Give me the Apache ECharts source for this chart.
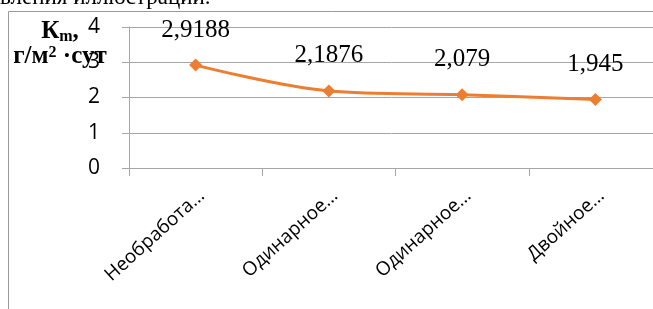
<!DOCTYPE html>
<html>
<head>
<meta charset="utf-8">
<script src="https://cdn.jsdelivr.net/npm/echarts@6/dist/echarts.min.js"></script>
<style>
  html, body { margin: 0; padding: 0; background: #fff; }
  #chart { width: 653px; height: 309px; }
</style>
</head>
<body>
<div id="chart"></div>
<script>
// categories as shown (truncated in the original)
const categories = ['Необработа…', 'Одинарное…', 'Одинарное…', 'Двойное…']
const kmValues = [2.9188, 2.1876, 2.079, 1.945]
const kmLabels = ['2,9188', '2,1876', '2,079', '1,945']
const yTicks = [0, 1, 2, 3, 4]

const gray = '#a6a6a6'
const orange = '#ed7d31'

let myChart = echarts.init(document.getElementById('chart'), null, {renderer: 'canvas'})

let option = {
  animation: false,
  grid: {
    left: 129,
    top: 27,
    width: 533,
    height: 141,
    outerBoundsMode: 'none'
  },
  graphic: [
    {
      type: 'rect',
      shape: {x: 8.5, y: 11.5, width: 700, height: 400},
      style: {fill: 'none', stroke: '#9a9a9a', lineWidth: 1},
      z: -1
    },
    {
      type: 'text',
      left: 0,
      top: -14,
      style: {
        text: 'вления иллюстрации.',
        font: '23px "Liberation Serif"',
        fill: '#000'
      }
    },
    {
      type: 'text',
      x: 60,
      y: 19,
      style: {
        text: '{a|К}{s|m}{a|,}\n{a|г/м}{p|2}{a| ·сут}',
        rich: {
          a: {font: 'bold 25px "Liberation Serif"', fill: '#000', lineHeight: 24},
          s: {font: 'bold 16px "Liberation Serif"', fill: '#000', verticalAlign: 'bottom', padding: [10, 0, 0, 0]},
          p: {font: 'bold 16px "Liberation Serif"', fill: '#000', verticalAlign: 'top', padding: [0, 0, 8, 0]}
        },
        align: 'center'
      },
      z: 10
    }
  ],
  xAxis: {
    type: 'category',
    data: categories,
    boundaryGap: true,
    axisLine: {show: true, lineStyle: {color: gray, width: 1}},
    axisTick: {show: true, length: 8, lineStyle: {color: gray}},
    axisLabel: {
      rotate: 42,
      interval: 0,
      margin: 18,
      verticalAlign: 'top',
      color: '#000',
      fontSize: 19,
      fontFamily: '"Open Sans", sans-serif'
    }
  },
  yAxis: {
    type: 'value',
    min: yTicks[0],
    max: yTicks[yTicks.length - 1],
    interval: 1,
    axisLine: {show: true, lineStyle: {color: gray, width: 1}},
    axisTick: {show: true, length: 7, lineStyle: {color: gray}},
    splitLine: {show: true, lineStyle: {color: gray, width: 1}},
    axisLabel: {
      margin: 29,
      color: '#000',
      fontSize: 21,
      fontFamily: '"Open Sans", sans-serif'
    }
  },
  series: [
    {
      type: 'line',
      data: kmValues,
      smooth: 0.35,
      symbol: 'diamond',
      symbolSize: 13,
      lineStyle: {color: orange, width: 3},
      itemStyle: {color: orange},
      label: {
        show: true,
        position: 'top',
        distance: 16,
        color: '#000',
        fontSize: 25,
        fontFamily: '"Liberation Serif", serif',
        formatter: function(p) {
          return kmLabels[p.dataIndex]
        }
      }
    }
  ]
}

myChart.setOption(option)
</script>
</body>
</html>
